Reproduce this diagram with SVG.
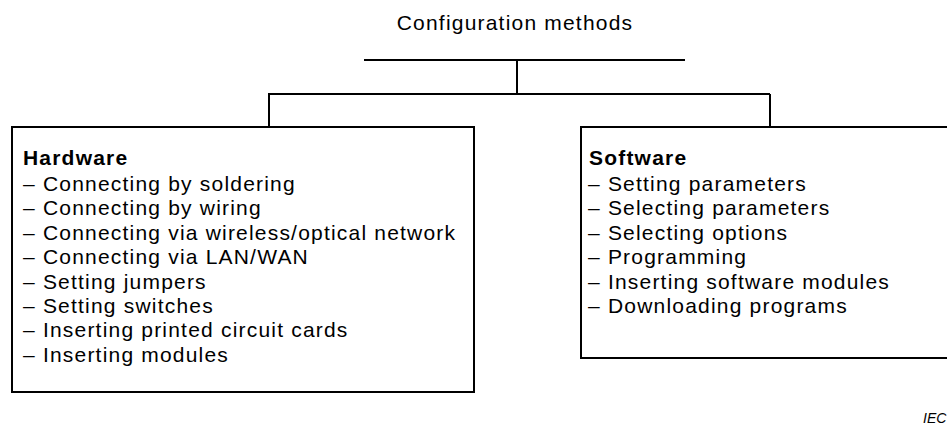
<svg xmlns="http://www.w3.org/2000/svg" width="947" height="426" viewBox="0 0 947 426">
  <style>
    .t { font-family: "Liberation Sans", Arial, sans-serif; font-size: 21px; letter-spacing: 1.2px; fill: #000; }
    .b { font-weight: bold; }
    .box { fill: none; stroke: #000; stroke-width: 2; }
    .ln { fill: none; stroke: #000; stroke-width: 2; }
    .tag { font-family: "Liberation Sans", Arial, sans-serif; font-size: 14px; font-style: italic; fill: #000; }
  </style>
  <rect width="947" height="426" fill="#fff"/>

  <g id="root">
    <text class="t" x="515" y="30" text-anchor="middle">Configuration methods</text>
  </g>

  <g id="connectors">
    <line class="ln" x1="364" y1="60" x2="685" y2="60"/>
    <line class="ln" x1="517" y1="60" x2="517" y2="94"/>
    <line class="ln" x1="268" y1="94" x2="770" y2="94"/>
    <line class="ln" x1="269" y1="94" x2="269" y2="127"/>
    <line class="ln" x1="770" y1="94" x2="770" y2="127"/>
  </g>

  <g id="hardware">
    <rect class="box" x="12" y="127" width="462" height="265"/>
    <text class="t b" x="23" y="165">Hardware</text>
    <text class="t" x="23" y="191">– Connecting by soldering</text>
    <text class="t" x="23" y="215.4">– Connecting by wiring</text>
    <text class="t" x="23" y="239.8">– Connecting via wireless/optical network</text>
    <text class="t" x="23" y="264.2">– Connecting via LAN/WAN</text>
    <text class="t" x="23" y="288.6">– Setting jumpers</text>
    <text class="t" x="23" y="313">– Setting switches</text>
    <text class="t" x="23" y="337.4">– Inserting printed circuit cards</text>
    <text class="t" x="23" y="361.8">– Inserting modules</text>
  </g>

  <g id="software">
    <rect class="box" x="581" y="127" width="375" height="231"/>
    <text class="t b" x="589" y="165">Software</text>
    <text class="t" x="588" y="191">– Setting parameters</text>
    <text class="t" x="588" y="215.4">– Selecting parameters</text>
    <text class="t" x="588" y="239.8">– Selecting options</text>
    <text class="t" x="588" y="264.2">– Programming</text>
    <text class="t" x="588" y="288.6">– Inserting software modules</text>
    <text class="t" x="588" y="313">– Downloading programs</text>
  </g>

  <text class="tag" x="923" y="423">IEC</text>
</svg>
